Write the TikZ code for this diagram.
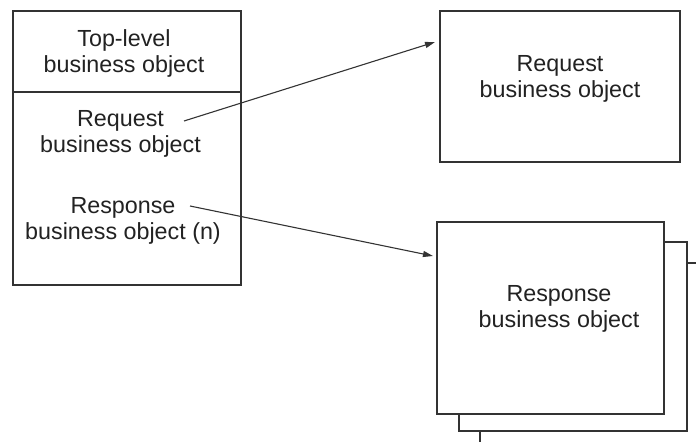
\documentclass[tikz,border=0pt]{standalone}
\usepackage{fontspec}
\setmainfont{Liberation Sans}
\usetikzlibrary{arrows.meta}
\definecolor{ln}{HTML}{333333}
\definecolor{tx}{HTML}{222222}
\begin{document}
\begin{tikzpicture}[x=1bp,y=-1bp,
  box/.style={draw=ln, line width=1.3bp, fill=white, inner sep=0pt, outer sep=0pt},
  lbl/.style={text=tx, align=center, inner sep=0pt, anchor=base, font=\fontsize{23.3bp}{26.6bp}\selectfont},
  conn/.style={draw=ln, line width=1.1bp, -{Triangle[length=10bp,width=6bp]}}]
\useasboundingbox (0,0) rectangle (696,442);
\begin{scope}
\clip (0,0) rectangle (696,442);
% left composite box
\node[box, minimum width=228bp, minimum height=274bp] (top) at (127,148) {};
\draw[ln, line width=1.3bp] (top.west |- 0,92) -- (top.east |- 0,92);
\node[lbl] (toptext) at (124,73) {Top-level\\business object};
\node[lbl] (reqitem) at (120.5,153) {Request\\business object};
\node[lbl] (respitem) at (123,240) {Response\\business object (n)};
% request box
\node[box, minimum width=240bp, minimum height=151bp] (reqbox) at (560,86.5) {};
\node[lbl] (reqtext) at (560,98) {Request\\business object};
% response stack
\node[box, minimum width=228bp, minimum height=189bp] (resp3) at (594,357.5) {};
\node[box, minimum width=228bp, minimum height=189bp] (resp2) at (573,336.5) {};
\node[box, minimum width=227bp, minimum height=192bp] (respbox) at (550.5,318) {};
\node[lbl] (resptext) at (559,328) {Response\\business object};
% connectors
\coordinate (s1) at (184,121);
\coordinate (e1) at (435,42);
\coordinate (s2) at (190,206);
\coordinate (e2) at (433,256);
\draw[conn] (s1) -- (e1);
\draw[conn] (s2) -- (e2);
\end{scope}
\end{tikzpicture}
\end{document}
